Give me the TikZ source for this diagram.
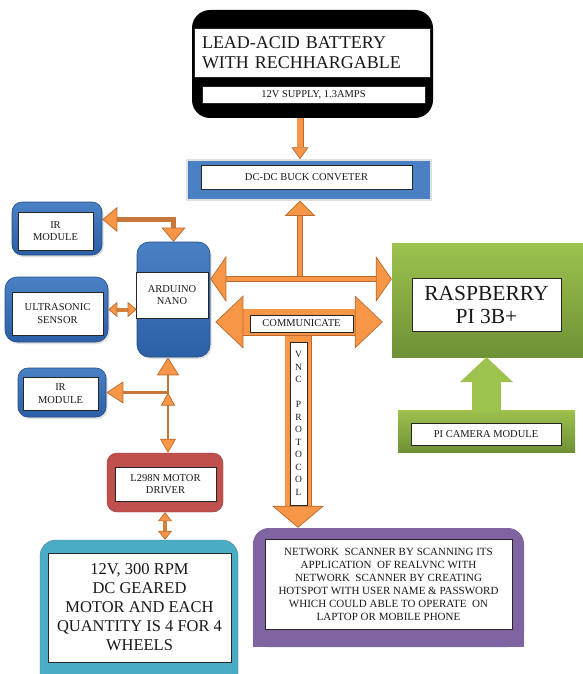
\documentclass[tikz,border=0pt]{standalone}
\usepackage{fontspec}
\setmainfont{Liberation Serif}
\usepackage{tikz}
\usetikzlibrary{arrows.meta,calc,shadows}
\definecolor{arrfill}{HTML}{F79646}
\definecolor{arredge}{HTML}{B96A2C}
\definecolor{wireclr}{HTML}{C8773A}
\definecolor{boxblue}{HTML}{4A80C4}
\definecolor{boxbluedk}{HTML}{2C60A6}
\definecolor{boxgreen}{HTML}{9DC24E}
\definecolor{boxgreendk}{HTML}{6F9136}
\definecolor{boxred}{HTML}{C0504D}
\definecolor{boxteal}{HTML}{4BACC6}
\definecolor{boxpurple}{HTML}{8064A2}

\begin{document}
\begin{tikzpicture}[x=1pt, y=-1pt,
  sz/.style 2 args={minimum width=#1, minimum height=#2, inner sep=0pt},
  lbl/.style={draw=black!85, fill=white, line width=0.8pt, align=center, text=black!90,
              font=\fontsize{10.5}{12.5}\selectfont},
  bluebox/.style={rounded corners=10pt, top color=boxblue, bottom color=boxbluedk,
                  draw=boxbluedk!80!black, line width=0.6pt,
                  drop shadow={opacity=0.25, shadow xshift=1.5pt, shadow yshift=-2pt}},
  greenbox/.style={top color=boxgreen, bottom color=boxgreendk},
  wire/.style={draw=wireclr, line width=2.5pt},
  fat/.style={draw=arredge, line width=0.7pt, double=arrfill, double distance=#1},
  endtip/.style 2 args={arrows={-{Triangle[width=#1,length=#2,fill=arrfill,color=arredge,line width=0.7pt]}}},
  bothtip/.style 2 args={arrows={{Triangle[width=#1,length=#2,fill=arrfill,color=arredge,line width=0.7pt]}-{Triangle[width=#1,length=#2,fill=arrfill,color=arredge,line width=0.7pt]}}}]
  \fill[white] (0,0) rectangle (582,674);
  \useasboundingbox (0,0) rectangle (582,674);
  % power supply
  \node[sz={241pt}{108pt}, fill=black, rounded corners=18pt] (batt) at (312.5,64) {};
  \node[lbl, sz={236pt}{49pt}, text width=220pt, align=left, font=\fontsize{18}{20}\selectfont] (battname) at (312,52.5) {LEAD-ACID BATTERY\\WITH RECHHARGABLE};
  \node[lbl, sz={223pt}{17pt}] (battsup) at (313.5,94.5) {12V SUPPLY, 1.3AMPS};
  \node[sz={244pt}{40pt}, fill=boxblue, draw=black!12, line width=1.5pt] (buck) at (309,180) {};
  \node[lbl, sz={211pt}{24pt}] (bucklbl) at (306.5,177) {DC-DC BUCK CONVETER};
  % sensors and controller
  \node[bluebox, sz={90pt}{53pt}] (ir1) at (57,228.5) {};
  \node[lbl, sz={75pt}{38pt}] (ir1lbl) at (55.5,231) {IR\\MODULE};
  \node[bluebox, rounded corners=12pt, sz={73pt}{115pt}] (ard) at (173.5,299.5) {};
  \node[lbl, sz={72pt}{46pt}] (ardlbl) at (172,295) {ARDUINO\\NANO};
  \node[bluebox, rounded corners=12pt, sz={103pt}{65pt}] (us) at (56.5,309.5) {};
  \node[lbl, sz={91pt}{43pt}] (uslbl) at (57.5,313.5) {ULTRASONIC\\SENSOR};
  \node[bluebox, sz={88pt}{49pt}] (ir2) at (62,392.5) {};
  \node[lbl, sz={75pt}{33pt}] (ir2lbl) at (60.5,393.5) {IR\\MODULE};
  % motors
  \node[sz={116pt}{59pt}, fill=boxred, draw=boxred!75!black, rounded corners=10pt] (drv) at (165,482.5) {};
  \node[lbl, sz={101pt}{34pt}] (drvlbl) at (165.5,484) {L298N MOTOR\\DRIVER};
  \node[sz={198pt}{150pt}, fill=boxteal, draw=boxteal!80!black, rounded corners=16pt] (motor) at (139,615) {};
  \node[lbl, sz={183pt}{109pt}, font=\fontsize{16.5}{19}\selectfont] (motorlbl) at (139.5,607.5) {12V, 300 RPM\\DC GEARED\\MOTOR AND EACH\\QUANTITY IS 4 FOR 4\\WHEELS};
  % pi side
  \node[greenbox, sz={198pt}{114pt}] (rpi) at (491,300) {};
  \node[lbl, sz={149pt}{53pt}, font=\fontsize{21.5}{23}\selectfont] (rpilbl) at (486.5,304.5) {RASPBERRY\\PI 3B+};
  \node[greenbox, sz={177pt}{42pt}] (cam) at (486.5,431) {};
  \node[lbl, sz={150pt}{22pt}] (camlbl) at (486,434) {PI CAMERA MODULE};
  \node[sz={271pt}{119pt}, fill=boxpurple, rounded corners=16pt] (net) at (388.5,587.5) {};
  \fill[boxpurple] (net.west) rectangle (net.south east);
  \node[lbl, sz={247pt}{90pt}, font=\fontsize{11}{13}\selectfont] (netlbl) at (388.5,584) {NETWORK\ \ SCANNER BY SCANNING ITS\\APPLICATION\ \ OF REALVNC WITH\\NETWORK\ \ SCANNER BY CREATING\\HOTSPOT WITH USER NAME \& PASSWORD\\WHICH COULD ABLE TO OPERATE\ \ ON\\LAPTOP OR MOBILE PHONE};
  % junctions
  \coordinate (jn) at (300,279);
  \coordinate (jc) at (298,322);
  \coordinate (jb) at (168,392.5);
  % block arrows
  \draw[fat=5.6pt, endtip={17pt}{12pt}] (batt.south -| jn) -- (buck.north -| jn);
  \draw[fat=4.6pt, endtip={30pt}{15pt}] (jn) -- (buck.south -| jn);
  \draw[fat=4.6pt, bothtip={46pt}{16pt}] (ard.east |- jn) -- (rpi.west |- jn);
  \draw[fat=25.6pt, endtip={52pt}{22pt}] (jc) -- (net.north -| jc);
  \draw[fat=25.6pt, bothtip={53pt}{28pt}, shorten <=5pt, shorten >=9pt] (ard.east |- jc) -- (rpi.west |- jc);
  \node[lbl, sz={103pt}{17pt}] (comm) at (301.5,323.5) {COMMUNICATE};
  \node[lbl, sz={17pt}{163pt}, font=\fontsize{9.5}{12.5}\selectfont] (vnc) at (298.5,423.5) {V\\N\\C\\[12.5pt]P\\R\\O\\T\\O\\C\\O\\L};
  \draw[draw=boxgreen, line width=29pt, -{Triangle[width=53pt,length=25pt,line width=0.5pt]}] (cam.north) -- (cam.north |- rpi.south);
  % wires
  \draw[wire, line width=4.5pt, {Triangle[width=25pt,length=15pt,fill=arrfill,color=arredge,line width=0.7pt]}-{Triangle[width=24pt,length=14pt,fill=arrfill,color=arredge,line width=0.7pt]}] ([yshift=9pt]ir1.east) -| (ard.north);
  \draw[wire, line width=4pt, draw=arrfill!85!black, bothtip={15pt}{9pt}] (us.east) -- (us.east -| ard.west);
  \draw[wire, {Triangle[width=22pt,length=18pt,fill=arrfill,color=arredge,line width=0.7pt]}-{Triangle[width=16pt,length=14pt,fill=arrfill,color=arredge,line width=0.7pt]}] (ard.south -| jb) -- (drv.north -| jb);
  \draw[wire, endtip={22pt}{17pt}] (jb) -- (ir2.east);
  \draw[wire, endtip={14pt}{13pt}] ($(jb)+(0,16)$) -- (jb);
  \draw[wire, line width=4pt, draw=arrfill!85!black, bothtip={14pt}{9pt}] (drv.south) -- (drv.south |- motor.north);
\end{tikzpicture}
\end{document}
